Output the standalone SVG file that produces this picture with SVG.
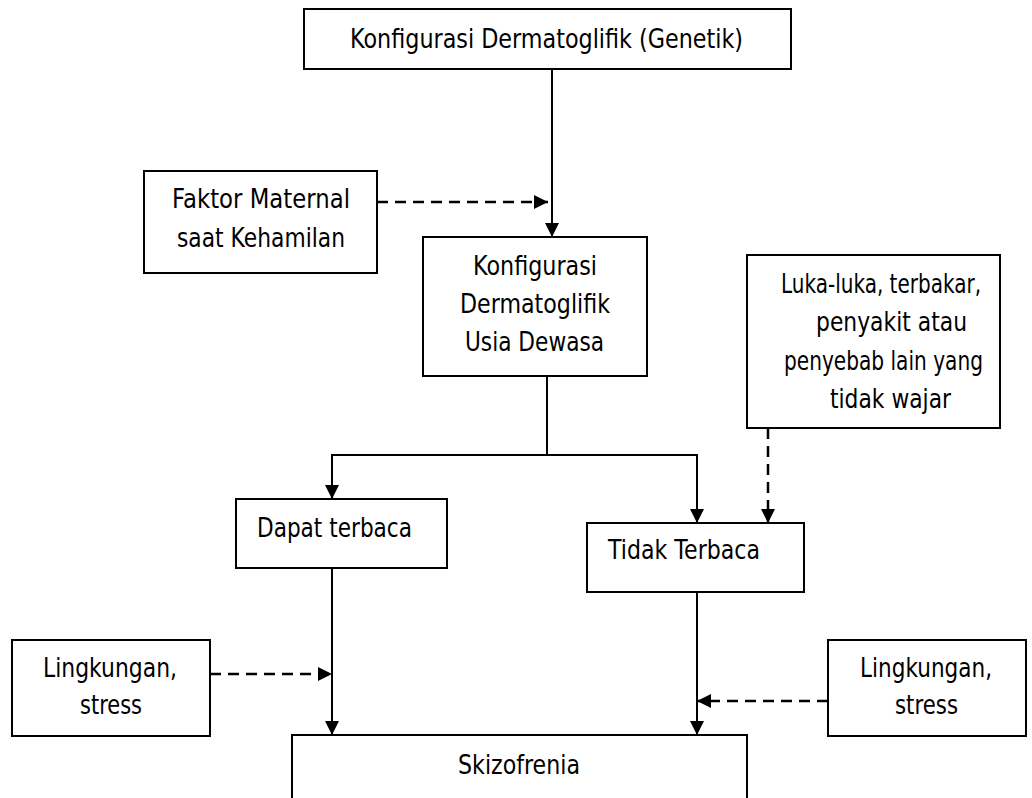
<svg xmlns="http://www.w3.org/2000/svg" width="1032" height="798" viewBox="0 0 1032 798">
<style>
.box{fill:#fff;stroke:#000;stroke-width:2}
.t{font-family:"DejaVu Sans","Liberation Sans",sans-serif;font-size:27px;fill:#000}
.c{fill:none;stroke:#000;stroke-width:2}
.d{fill:none;stroke:#000;stroke-width:2.5;stroke-dasharray:11 7}
</style>
<defs>
<marker id="ah" viewBox="0 0 14 14" refX="14" refY="7" markerWidth="14" markerHeight="14" markerUnits="userSpaceOnUse" orient="auto">
<path d="M0,0 L14,7 L0,14 z" fill="#000"/>
</marker>
</defs>
<rect width="1032" height="798" fill="#fff"/>
<g id="connectors">
<path class="c" d="M552,69 V237" marker-end="url(#ah)"/>
<path class="d" d="M377,202 H548" marker-end="url(#ah)"/>
<path class="c" d="M547,376 V455"/>
<path class="c" d="M547,455 H332 V499" marker-end="url(#ah)"/>
<path class="c" d="M547,455 H697 V523" marker-end="url(#ah)"/>
<path class="d" d="M768,428 V523" marker-end="url(#ah)"/>
<path class="c" d="M332,568 V735" marker-end="url(#ah)"/>
<path class="d" d="M210,674 H332" marker-end="url(#ah)"/>
<path class="c" d="M697,592 V735" marker-end="url(#ah)"/>
<path class="d" d="M828,701 H697" marker-end="url(#ah)"/>
</g>
<g id="n-genetik">
<rect class="box" x="304" y="9" width="487" height="60"/>
<text class="t" x="350" y="48" textLength="393" lengthAdjust="spacingAndGlyphs">Konfigurasi Dermatoglifik (Genetik)</text>
</g>
<g id="n-maternal">
<rect class="box" x="144" y="171" width="233" height="102"/>
<text class="t" x="172" y="208" textLength="178" lengthAdjust="spacingAndGlyphs">Faktor Maternal</text>
<text class="t" x="177" y="247" textLength="168" lengthAdjust="spacingAndGlyphs">saat Kehamilan</text>
</g>
<g id="n-dewasa">
<rect class="box" x="423" y="237" width="224" height="139"/>
<text class="t" x="473" y="275" textLength="124" lengthAdjust="spacingAndGlyphs">Konfigurasi</text>
<text class="t" x="460" y="313" textLength="150" lengthAdjust="spacingAndGlyphs">Dermatoglifik</text>
<text class="t" x="465" y="351" textLength="139" lengthAdjust="spacingAndGlyphs">Usia Dewasa</text>
</g>
<g id="n-luka">
<rect class="box" x="747" y="255" width="253" height="173"/>
<text class="t" x="781" y="293" textLength="200" lengthAdjust="spacingAndGlyphs">Luka-luka, terbakar,</text>
<text class="t" x="816" y="331" textLength="151" lengthAdjust="spacingAndGlyphs">penyakit atau</text>
<text class="t" x="784" y="370" textLength="199" lengthAdjust="spacingAndGlyphs">penyebab lain yang</text>
<text class="t" x="830" y="408" textLength="121" lengthAdjust="spacingAndGlyphs">tidak wajar</text>
</g>
<g id="n-dapat">
<rect class="box" x="236" y="499" width="211" height="69"/>
<text class="t" x="257" y="537" textLength="155" lengthAdjust="spacingAndGlyphs">Dapat terbaca</text>
</g>
<g id="n-tidak">
<rect class="box" x="587" y="523" width="217" height="69"/>
<text class="t" x="608" y="559" textLength="152" lengthAdjust="spacingAndGlyphs">Tidak Terbaca</text>
</g>
<g id="n-ling-left">
<rect class="box" x="12" y="640" width="198" height="96"/>
<text class="t" x="43" y="677" textLength="134" lengthAdjust="spacingAndGlyphs">Lingkungan,</text>
<text class="t" x="80" y="714" textLength="62" lengthAdjust="spacingAndGlyphs">stress</text>
</g>
<g id="n-ling-right">
<rect class="box" x="828" y="640" width="198" height="96"/>
<text class="t" x="860" y="677" textLength="132" lengthAdjust="spacingAndGlyphs">Lingkungan,</text>
<text class="t" x="895" y="714" textLength="63" lengthAdjust="spacingAndGlyphs">stress</text>
</g>
<g id="n-skizofrenia">
<rect class="box" x="292" y="735" width="455" height="80"/>
<text class="t" x="458" y="774" textLength="122" lengthAdjust="spacingAndGlyphs">Skizofrenia</text>
</g>
</svg>
